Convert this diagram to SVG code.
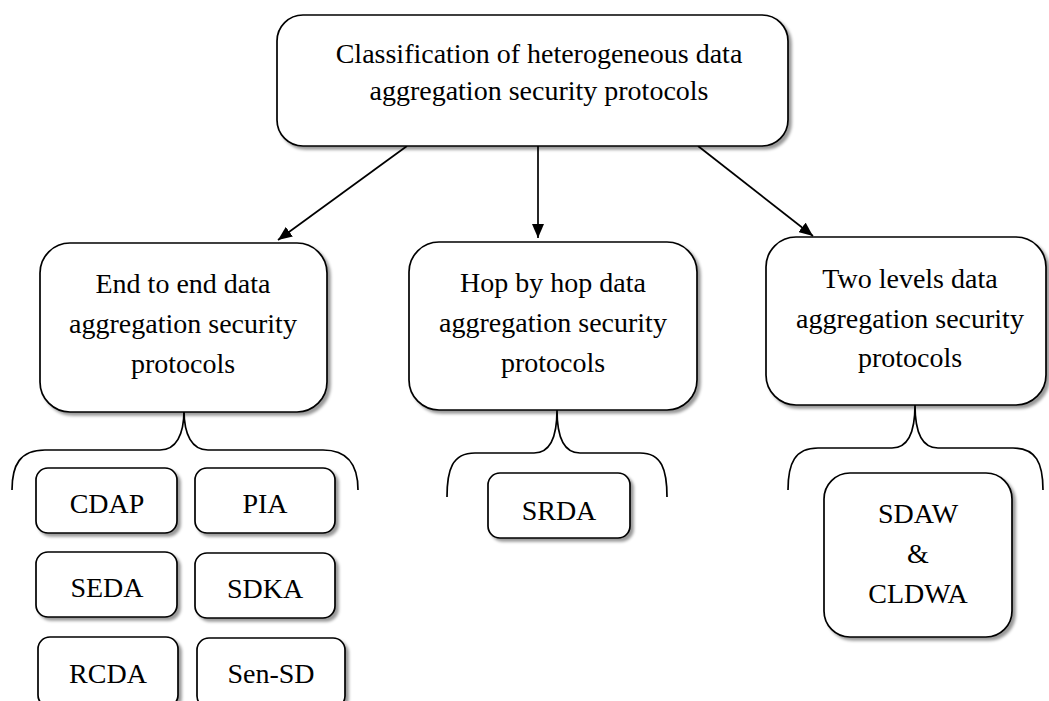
<svg xmlns="http://www.w3.org/2000/svg" width="1049" height="701" viewBox="0 0 1049 701">
<defs>
<filter id="sh" x="-10%" y="-10%" width="130%" height="130%">
<feDropShadow dx="3" dy="3" stdDeviation="1.5" flood-color="#000" flood-opacity="0.4"/>
</filter>
<marker id="ah" viewBox="0 0 14 12" refX="14" refY="6" markerWidth="14" markerHeight="12" markerUnits="userSpaceOnUse" orient="auto">
<path d="M0,0 L14,6 L0,12 Z" fill="#000"/>
</marker>
<style>
.box{fill:#fff;stroke:#000;stroke-width:1.7;filter:url(#sh)}
.t{font-family:"Liberation Serif","Times New Roman",serif;font-size:28px;fill:#000;text-anchor:middle}
.ln{stroke:#000;stroke-width:1.7;fill:none}
</style>
</defs>
<rect width="1049" height="701" fill="#fff"/>
<g id="connectors">
<line class="ln" x1="407" y1="146" x2="278" y2="240" marker-end="url(#ah)"/>
<line class="ln" x1="538" y1="146" x2="538" y2="238" marker-end="url(#ah)"/>
<line class="ln" x1="698" y1="146" x2="813" y2="236" marker-end="url(#ah)"/>
<path class="ln" d="M12,490 C12,465 20,450 45,450 L160,450 C176,450 184,435 184,410 C184,435 192,450 208,450 L323,450 C348,450 358,465 358,490"/>
<path class="ln" d="M447,497 C447,470 452,453 475,453 L534,453 C550,453 557,437 557,410 C557,437 564,453 580,453 L640,453 C662,453 667,470 667,497"/>
<path class="ln" d="M788,490 C788,463 795,448 818,448 L892,448 C908,448 915,432 915,405 C915,432 922,448 938,448 L1013,448 C1036,448 1043,463 1043,490"/>
</g>
<g id="root">
<rect class="box" x="277" y="15" width="511" height="131" rx="26"/>
<text class="t" x="539" y="63">Classification of heterogeneous data</text>
<text class="t" x="539" y="100">aggregation security protocols</text>
</g>
<g id="end-to-end">
<rect class="box" x="40" y="243" width="287" height="169" rx="30"/>
<text class="t" x="183" y="293">End to end data</text>
<text class="t" x="183" y="333">aggregation security</text>
<text class="t" x="183" y="373">protocols</text>
</g>
<g id="hop-by-hop">
<rect class="box" x="409" y="242" width="288" height="168" rx="30"/>
<text class="t" x="553" y="292">Hop by hop data</text>
<text class="t" x="553" y="332">aggregation security</text>
<text class="t" x="553" y="372">protocols</text>
</g>
<g id="two-levels">
<rect class="box" x="766" y="237" width="280" height="168" rx="30"/>
<text class="t" x="910" y="288">Two levels data</text>
<text class="t" x="910" y="328">aggregation security</text>
<text class="t" x="910" y="367">protocols</text>
</g>
<g id="cdap">
<rect class="box" x="36" y="468" width="141" height="65" rx="12"/>
<text class="t" x="107" y="513">CDAP</text>
</g>
<g id="pia">
<rect class="box" x="195" y="468" width="140" height="65" rx="12"/>
<text class="t" x="265" y="513">PIA</text>
</g>
<g id="seda">
<rect class="box" x="36" y="552" width="141" height="65" rx="12"/>
<text class="t" x="107" y="597">SEDA</text>
</g>
<g id="sdka">
<rect class="box" x="195" y="553" width="140" height="65" rx="12"/>
<text class="t" x="265" y="598">SDKA</text>
</g>
<g id="rcda">
<rect class="box" x="38" y="637" width="140" height="70" rx="12"/>
<text class="t" x="108" y="683">RCDA</text>
</g>
<g id="sen-sd">
<rect class="box" x="197" y="638" width="148" height="70" rx="12"/>
<text class="t" x="271" y="683">Sen-SD</text>
</g>
<g id="srda">
<rect class="box" x="488" y="473" width="142" height="65" rx="12"/>
<text class="t" x="559" y="520">SRDA</text>
</g>
<g id="sdaw-cldwa">
<rect class="box" x="824" y="473" width="188" height="164" rx="26"/>
<text class="t" x="918" y="523">SDAW</text>
<text class="t" x="918" y="563">&amp;</text>
<text class="t" x="918" y="603">CLDWA</text>
</g>
</svg>
